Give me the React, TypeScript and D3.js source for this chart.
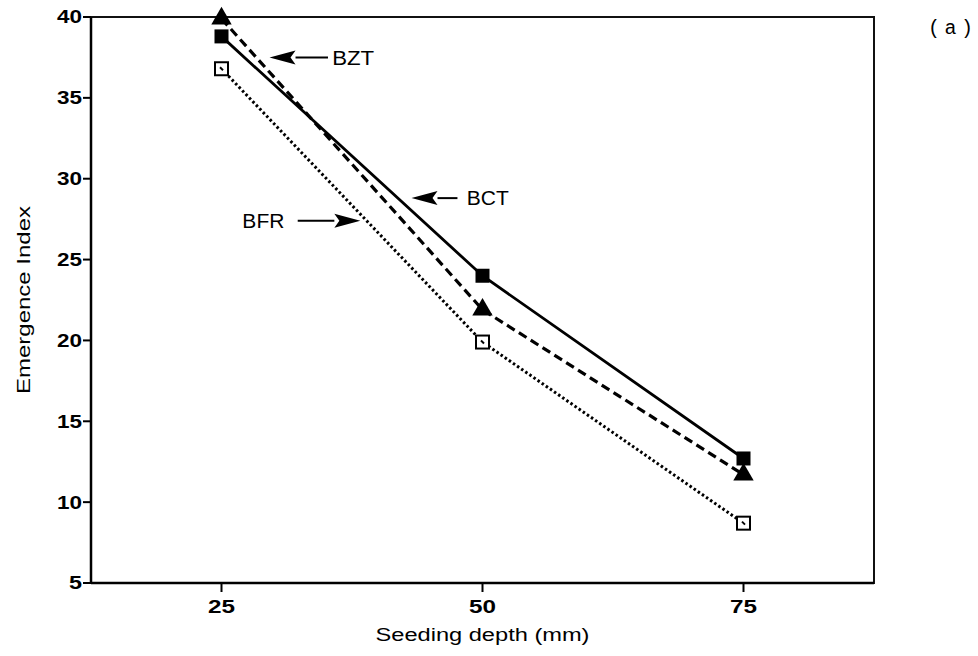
import React from 'react';
import * as d3 from 'd3';

// seeding depth (mm)
const depths = [25, 50, 75];
// emergence index per treatment
const bct = [38.8, 24.0, 12.7];
const bzt = [39.9, 21.9, 11.7];
const bfr = [36.8, 19.9, 8.7];

const yTicks = [5, 10, 15, 20, 25, 30, 35, 40];
const xTicks = [25, 50, 75];

// arrow callouts, in data units
const callouts = [
  { label: 'BZT', tip: [29.6, 37.5], tail: [35.2, 37.5], text: [35.6, 37.5] },
  { label: 'BCT', tip: [43.2, 28.8], tail: [47.6, 28.8], text: [48.5, 28.8] },
  { label: 'BFR', tip: [38.3, 27.4], tail: [32.3, 27.4], text: [27.0, 27.4] },
];

const W = 978;
const H = 656;
const margin = { top: 17, right: 104, bottom: 73, left: 91 };
const FONT = '"Liberation Sans", Arial, Helvetica, sans-serif';

export default function App() {
  const x = d3.scaleLinear().domain([12.5, 87.5]).range([margin.left, W - margin.right]);
  const y = d3.scaleLinear().domain([5, 40]).range([H - margin.bottom, margin.top]);

  const line = d3.line<[number, number]>()
    .x((d) => x(d[0]))
    .y((d) => y(d[1]));

  const pts = (vals: number[]) => depths.map((d, i) => [d, vals[i]] as [number, number]);

  const [x0, x1] = x.range();
  const [y0, y1] = y.range();

  const tri = d3.symbol().type(d3.symbolTriangle).size(180)();

  return (
    <svg
      width={W}
      height={H}
      style={{ position: 'absolute', left: 0, top: 0, background: '#fff' }}
      fontFamily={FONT}
    >
      {/* frame */}
      <rect x={x0} y={y1} width={x1 - x0} height={y0 - y1} fill="none" stroke="#111" strokeWidth={2} />
      <line x1={x0} x2={x0} y1={y1} y2={y0} stroke="#000" strokeWidth={2.5} />
      <line x1={x0} x2={x1} y1={y0} y2={y0} stroke="#000" strokeWidth={2.5} />

      {/* y axis */}
      {yTicks.map((t) => (
        <g key={`y${t}`} transform={`translate(${x0},${y(t)})`}>
          <line x1={-8} x2={0} stroke="#000" strokeWidth={2} />
          <text
            x={-9}
            dy="0.36em"
            textAnchor="end"
            fontSize={18}
            fontWeight="bold"
            textLength={t < 10 ? 13 : 25}
            lengthAdjust="spacingAndGlyphs"
          >
            {t}
          </text>
        </g>
      ))}

      {/* x axis */}
      {xTicks.map((t) => (
        <g key={`x${t}`} transform={`translate(${x(t)},${y0})`}>
          <line y1={0} y2={9} stroke="#000" strokeWidth={2} />
          <text
            y={30}
            textAnchor="middle"
            fontSize={18}
            fontWeight="bold"
            textLength={27}
            lengthAdjust="spacingAndGlyphs"
          >
            {t}
          </text>
        </g>
      ))}

      <text
        x={(x0 + x1) / 2}
        y={641}
        textAnchor="middle"
        fontSize={18}
        textLength={214}
        lengthAdjust="spacingAndGlyphs"
      >
        Seeding depth (mm)
      </text>
      <text
        transform={`translate(30,${(y0 + y1) / 2}) rotate(-90)`}
        textAnchor="middle"
        fontSize={18}
        textLength={188}
        lengthAdjust="spacingAndGlyphs"
      >
        Emergence Index
      </text>

      {/* series lines */}
      <path d={line(pts(bfr)) ?? ''} fill="none" stroke="#000" strokeWidth={3} strokeDasharray="2.5 2.5" />
      <path d={line(pts(bzt)) ?? ''} fill="none" stroke="#000" strokeWidth={3.2} strokeDasharray="9 5" />
      <path d={line(pts(bct)) ?? ''} fill="none" stroke="#000" strokeWidth={2.8} />

      {/* markers */}
      {pts(bfr).map((p, i) => (
        <g key={`bfr${i}`} transform={`translate(${x(p[0])},${y(p[1])})`}>
          <rect x={-6.5} y={-6.5} width={13} height={13} fill="#fff" stroke="#000" strokeWidth={2} />
          <line x1={-1.5} y1={-1.5} x2={1.5} y2={1.5} stroke="#000" strokeWidth={2} />
        </g>
      ))}
      {pts(bzt).map((p, i) => (
        <path key={`bzt${i}`} d={tri ?? ''} transform={`translate(${x(p[0])},${y(p[1])})`} fill="#000" />
      ))}
      {pts(bct).map((p, i) => (
        <rect key={`bct${i}`} x={x(p[0]) - 7} y={y(p[1]) - 7} width={14} height={14} fill="#000" />
      ))}

      {/* callouts */}
      {callouts.map((c) => {
        const tx = x(c.tip[0]);
        const ty = y(c.tip[1]);
        const lx = x(c.tail[0]);
        const dir = lx > tx ? 1 : -1;
        const headLen = 26;
        const hw = 7;
        return (
          <g key={c.label}>
            <line x1={lx} y1={ty} x2={tx + dir * headLen} y2={ty} stroke="#000" strokeWidth={2} />
            <path
              d={`M${tx},${ty}L${tx + dir * headLen},${ty - hw}L${tx + dir * (headLen - 5)},${ty}L${tx + dir * headLen},${ty + hw}Z`}
              fill="#000"
            />
            <text
              x={x(c.text[0])}
              y={y(c.text[1])}
              dy="0.36em"
              fontSize={20}
              textLength={42}
              lengthAdjust="spacingAndGlyphs"
            >
              {c.label}
            </text>
          </g>
        );
      })}

      <text
        x={928}
        y={34}
        fontFamily='"Liberation Mono", "Courier New", monospace'
        fontSize={20}
        textLength={45}
        lengthAdjust="spacing"
      >
        (a)
      </text>
    </svg>
  );
}
